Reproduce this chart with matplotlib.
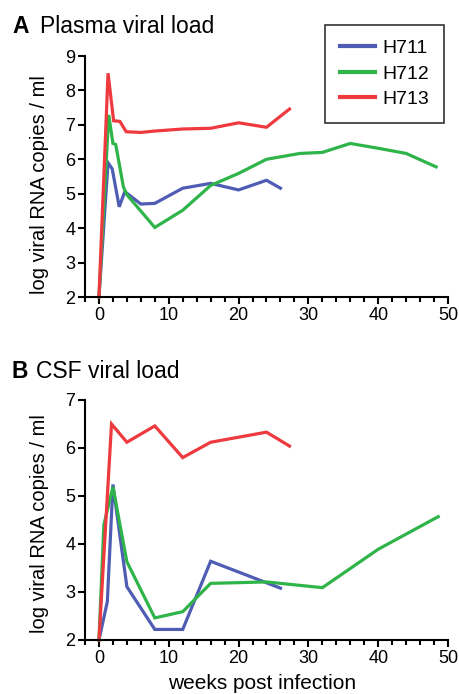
import numpy as np
import matplotlib
matplotlib.use('Agg')
from matplotlib import pyplot as plt
from matplotlib.ticker import MultipleLocator

plt.rcParams['font.family'] = ['Liberation Sans', 'DejaVu Sans']

# plasma viral load (weeks, log copies/ml)
plasma_h711_wk = [0, 1.3, 1.9, 2.9, 3.7, 6, 8, 12, 16, 20, 24, 26]
plasma_h711 = [2, 5.9, 5.72, 4.62, 5.06, 4.7, 4.72, 5.16, 5.3, 5.11, 5.39, 5.16]
plasma_h712_wk = [0, 1.4, 2, 2.4, 3.5, 4, 8, 12, 16, 20, 24, 28.8, 32, 36, 40, 44, 48.3]
plasma_h712 = [2, 7.29, 6.46, 6.43, 5.2, 4.97, 4.02, 4.52, 5.24, 5.59, 6.0, 6.17, 6.2, 6.46, 6.32, 6.17, 5.78]
plasma_h713_wk = [0, 1.3, 2.1, 3, 3.9, 6, 8, 12, 16, 20, 24, 27.3]
plasma_h713 = [2, 8.5, 7.12, 7.1, 6.8, 6.78, 6.82, 6.88, 6.9, 7.06, 6.93, 7.46]

# CSF viral load
csf_h711_wk = [0, 1.2, 2, 4, 8, 12, 16, 26]
csf_h711 = [2, 2.8, 5.24, 3.11, 2.22, 2.22, 3.64, 3.08]
csf_h712_wk = [0, 0.7, 2, 4, 8, 12, 16, 24, 32, 40, 48.6]
csf_h712 = [2, 4.4, 5.19, 3.63, 2.46, 2.59, 3.18, 3.21, 3.09, 3.89, 4.57]
csf_h713_wk = [0, 1.8, 4, 8, 12, 16, 24, 27.3]
csf_h713 = [2, 6.5, 6.12, 6.46, 5.8, 6.12, 6.33, 6.04]

labels = ['H711', 'H712', 'H713']
colors = ['#4f5cb3', '#2fb44a', '#ee3a3e']

W, H = 460, 694
fig = plt.figure(figsize=(W / 100, H / 100), dpi=100)

def px_axes(x0, y0, x1, y1):
    return fig.add_axes([x0 / W, 1 - y1 / H, (x1 - x0) / W, (y1 - y0) / H])

def style(ax, ymin, ymax):
    ax.set_xlim(-2, 50)
    ax.set_ylim(ymin, ymax)
    for s in ['top', 'right']:
        ax.spines[s].set_visible(False)
    for s in ['left', 'bottom']:
        ax.spines[s].set_linewidth(1.5)
    ax.xaxis.set_major_locator(MultipleLocator(10))
    ax.xaxis.set_minor_locator(MultipleLocator(2))
    ax.yaxis.set_major_locator(MultipleLocator(1))
    ax.tick_params(which='major', length=5, width=1.5, labelsize=13, pad=2)
    ax.tick_params(which='minor', length=3.5, width=1.5)
    ax.set_xticks(np.arange(0, 51, 10))

ax1 = px_axes(85, 56, 448, 297)
ax2 = px_axes(85, 400, 448, 640)

plasma = [(plasma_h711_wk, plasma_h711), (plasma_h712_wk, plasma_h712), (plasma_h713_wk, plasma_h713)]
csf = [(csf_h711_wk, csf_h711), (csf_h712_wk, csf_h712), (csf_h713_wk, csf_h713)]

for (x, y), lab, c in zip(plasma, labels, colors):
    ax1.plot(x, y, color=c, lw=2.3, label=lab, clip_on=False, solid_joinstyle='miter')
for (x, y), c in zip(csf, colors):
    ax2.plot(x, y, color=c, lw=2.3, clip_on=False, solid_joinstyle='miter')

style(ax1, 2, 9)
style(ax2, 2, 7)

leg = ax1.legend(loc='upper right', bbox_to_anchor=(444 / W, 1 - 25 / H),
                 bbox_transform=fig.transFigure, borderaxespad=0, fontsize=14,
                 fancybox=False, frameon=True, handlelength=1.8, handletextpad=0.4,
                 labelspacing=0.4, borderpad=0.75)
leg.get_frame().set_edgecolor('black')
leg.get_frame().set_linewidth(1.2)
for line in leg.get_lines():
    line.set_linewidth(3)

fig.text(12 / W, 1 - 33 / H, 'A', fontsize=16.5, fontweight='bold', va='baseline')
fig.text(40 / W, 1 - 33 / H, 'Plasma viral load', fontsize=16.5, va='baseline')
fig.text(12 / W, 1 - 378 / H, 'B', fontsize=16.5, fontweight='bold', va='baseline')
fig.text(36 / W, 1 - 378 / H, 'CSF viral load', fontsize=16.5, va='baseline')

ylab = 'log viral RNA copies / ml'
fig.text(40 / W, 1 - 185 / H, ylab, fontsize=14.5, rotation=90, ha='center', va='center')
fig.text(40 / W, 1 - 524 / H, ylab, fontsize=14.5, rotation=90, ha='center', va='center')
fig.text(262 / W, 1 - 689 / H, 'weeks post infection', fontsize=15, ha='center', va='baseline')

fig.savefig('out.png', dpi=100)
